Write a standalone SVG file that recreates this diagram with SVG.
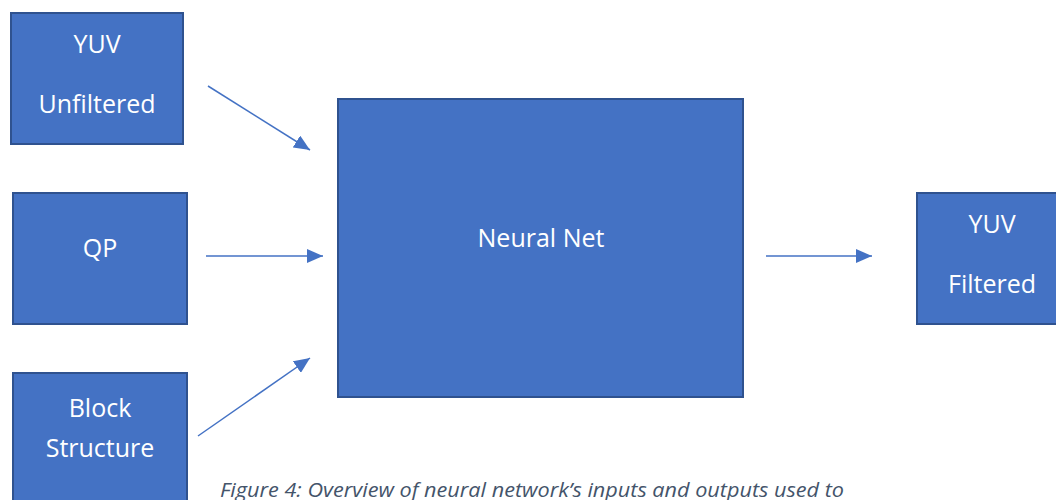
<svg xmlns="http://www.w3.org/2000/svg" width="1056" height="500" viewBox="0 0 1056 500">
  <style>
    .box { fill: #4472C4; stroke: #2F528F; stroke-width: 2; }
    .lbl { font-family: "Open Sans", "Liberation Sans", sans-serif; font-size: 25px; fill: #FFFFFF; text-anchor: middle; }
    .conn { stroke: #4472C4; stroke-width: 1.5; fill: none; marker-end: url(#head); }
    .caption { font-family: "Open Sans", "Liberation Sans", sans-serif; font-style: italic; font-size: 20px; fill: #44546A; }
  </style>
  <defs>
    <marker id="head" markerUnits="userSpaceOnUse" markerWidth="16" markerHeight="14" refX="16" refY="7" orient="auto">
      <path d="M0,0 L16,7 L0,14 Z" fill="#4472C4"/>
    </marker>
  </defs>

  <rect width="1056" height="500" fill="#FFFFFF"/>

  <g id="yuv-unfiltered">
    <rect class="box" x="11" y="13" width="172" height="131"/>
    <text class="lbl" x="97" y="53">YUV</text>
    <text class="lbl" x="97" y="113">Unfiltered</text>
  </g>

  <g id="qp">
    <rect class="box" x="13" y="193" width="174" height="131"/>
    <text class="lbl" x="100" y="257">QP</text>
  </g>

  <g id="block-structure">
    <rect class="box" x="13" y="373" width="174" height="140"/>
    <text class="lbl" x="100" y="417">Block</text>
    <text class="lbl" x="100" y="457">Structure</text>
  </g>

  <g id="neural-net">
    <rect class="box" x="338" y="99" width="405" height="298"/>
    <text class="lbl" x="541" y="247">Neural Net</text>
  </g>

  <g id="yuv-filtered">
    <rect class="box" x="917" y="193" width="150" height="131"/>
    <text class="lbl" x="992" y="233">YUV</text>
    <text class="lbl" x="992" y="293">Filtered</text>
  </g>

  <g id="connectors">
    <line class="conn" x1="208" y1="86" x2="310" y2="150"/>
    <line class="conn" x1="206" y1="256" x2="323" y2="256"/>
    <line class="conn" x1="198" y1="436" x2="310" y2="358"/>
    <line class="conn" x1="766" y1="256" x2="872" y2="256"/>
  </g>

  <text class="caption" x="220" y="497" textLength="624" lengthAdjust="spacingAndGlyphs">Figure 4: Overview of neural network’s inputs and outputs used to</text>
</svg>
